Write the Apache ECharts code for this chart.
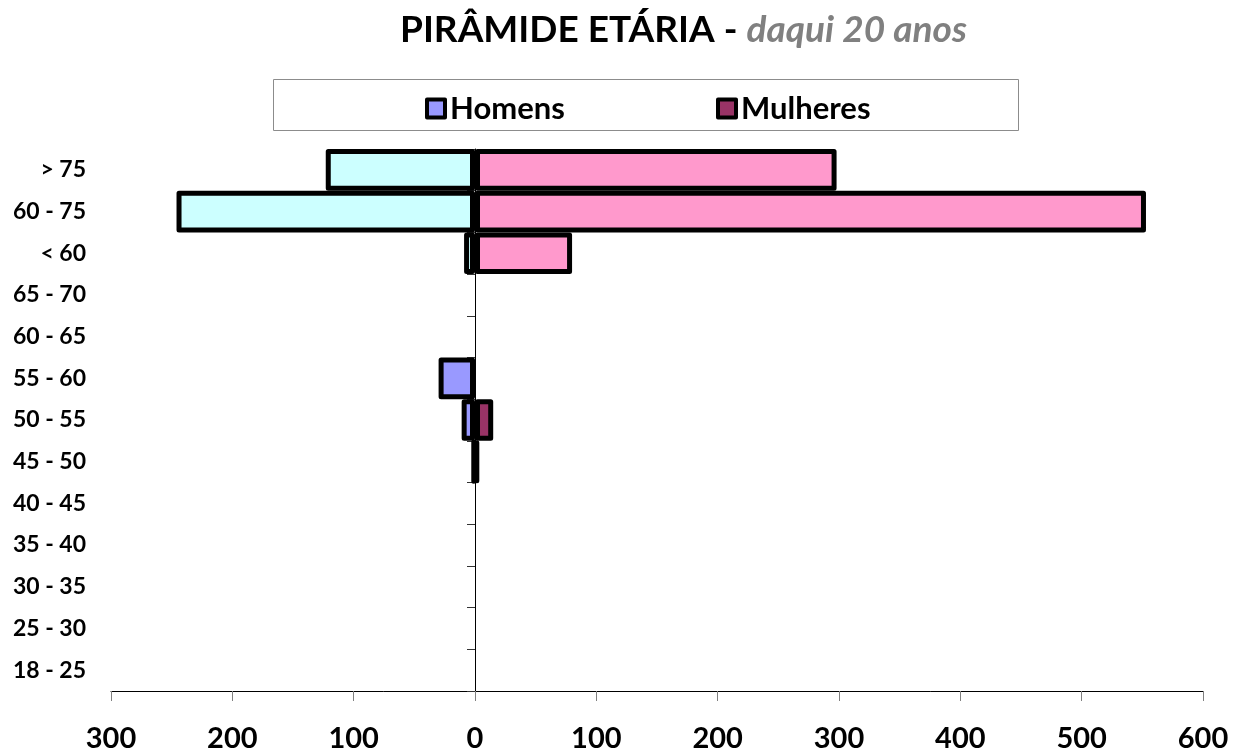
<!DOCTYPE html>
<html>
<head>
<meta charset="utf-8">
<script src="https://cdn.jsdelivr.net/npm/echarts@6/dist/echarts.min.js"></script>
<style>
  html, body { margin: 0; padding: 0; background: #ffffff; }
  #chart { width: 1242px; height: 753px; }
</style>
</head>
<body>
<div id="chart"></div>
<script>
// ---- Data (bottom to top, as in the category axis) ----
const categories = ['18 - 25', '25 - 30', '30 - 35', '35 - 40', '40 - 45', '45 - 50', '50 - 55', '55 - 60', '60 - 65', '65 - 70', '< 60', '60 - 75', '> 75'];
const homens   = [0, 0, 0, 0, 0, 2, 11, 30, 0, 0, 9, 246, 123];
const mulheres = [0, 0, 0, 0, 0, 3, 15, 0, 0, 0, 80, 553, 298];
const destaque = ['< 60', '60 - 75', '> 75'];
const xTicks = [-300, 600, 100]; // min, max, step

const FONT = 'Lato';
const corHomens = '#9999FF', corMulheres = '#993366';
const corHomensDestaque = '#CCFFFF', corMulheresDestaque = '#FF99CC';

function buildData(values, sign, baseColor, hiColor) {
  return values.map((v, i) => {
    if (v === 0) return '-';
    return {
      value: sign * v,
      itemStyle: { color: destaque.includes(categories[i]) ? hiColor : baseColor }
    };
  });
}

const chart = echarts.init(document.getElementById('chart'), null, { renderer: 'canvas' });

const barBorder = { borderColor: '#000000', borderWidth: 5, borderJoin: 'round' };

chart.setOption({
  animation: false,
  backgroundColor: '#ffffff',
  title: {
    left: 395,
    top: 7,
    text: '{a|PIRÂMIDE ETÁRIA - }{b|daqui 20 anos}',
    textStyle: {
      rich: {
        a: { fontFamily: FONT, fontWeight: 'bold', fontSize: 37, color: '#000000' },
        b: { fontFamily: FONT, fontWeight: 'bold', fontStyle: 'italic', fontSize: 37, color: '#808080' }
      }
    }
  },
  graphic: [{
    type: 'rect',
    shape: { x: 273.5, y: 79.5, width: 745, height: 51 },
    style: { fill: 'none', stroke: '#8c8c8c', lineWidth: 1 },
    silent: true
  }],
  legend: [
    {
      data: ['Homens'], left: 420, top: 88, icon: 'rect',
      itemWidth: 18, itemHeight: 18, itemGap: 6,
      itemStyle: { borderColor: '#000000', borderWidth: 4, borderJoin: 'round' },
      textStyle: { fontFamily: FONT, fontWeight: 'bold', fontSize: 31, color: '#000000' }
    },
    {
      data: ['Mulheres'], left: 711, top: 88, icon: 'rect',
      itemWidth: 18, itemHeight: 18, itemGap: 6,
      itemStyle: { borderColor: '#000000', borderWidth: 4, borderJoin: 'round' },
      textStyle: { fontFamily: FONT, fontWeight: 'bold', fontSize: 31, color: '#000000' }
    }
  ],
  grid: { left: 111, right: 39, top: 149, bottom: 62, containLabel: false, outerBoundsMode: 'none' },
  xAxis: {
    type: 'value',
    min: xTicks[0], max: xTicks[1], interval: xTicks[2],
    splitLine: { show: false },
    axisLine: { show: true, onZero: false, lineStyle: { color: '#000000', width: 1 } },
    axisTick: { show: true, length: 10, lineStyle: { color: '#808080', width: 1 } },
    axisLabel: {
      margin: 33,
      fontFamily: FONT, fontWeight: 'bold', fontSize: 29, color: '#000000',
      formatter: v => String(Math.abs(v))
    }
  },
  yAxis: {
    type: 'category',
    data: categories,
    boundaryGap: true,
    axisLine: { show: true, onZero: true, lineStyle: { color: '#000000', width: 1 } },
    axisTick: { show: true, length: 8, lineStyle: { color: '#333333', width: 1 } },
    axisLabel: {
      margin: 25,
      fontFamily: FONT, fontWeight: 'bold', fontSize: 23, color: '#000000',
      align: 'right'
    },
    splitLine: { show: false }
  },
  series: [
    {
      name: 'Homens', type: 'bar',
      barGap: '-100%', barCategoryGap: '0%',
      itemStyle: Object.assign({ color: corHomens }, barBorder),
      data: buildData(homens, -1, corHomens, corHomensDestaque)
    },
    {
      name: 'Mulheres', type: 'bar',
      barGap: '-100%', barCategoryGap: '0%',
      itemStyle: Object.assign({ color: corMulheres }, barBorder),
      data: buildData(mulheres, 1, corMulheres, corMulheresDestaque)
    }
  ]
});
</script>
</body>
</html>
